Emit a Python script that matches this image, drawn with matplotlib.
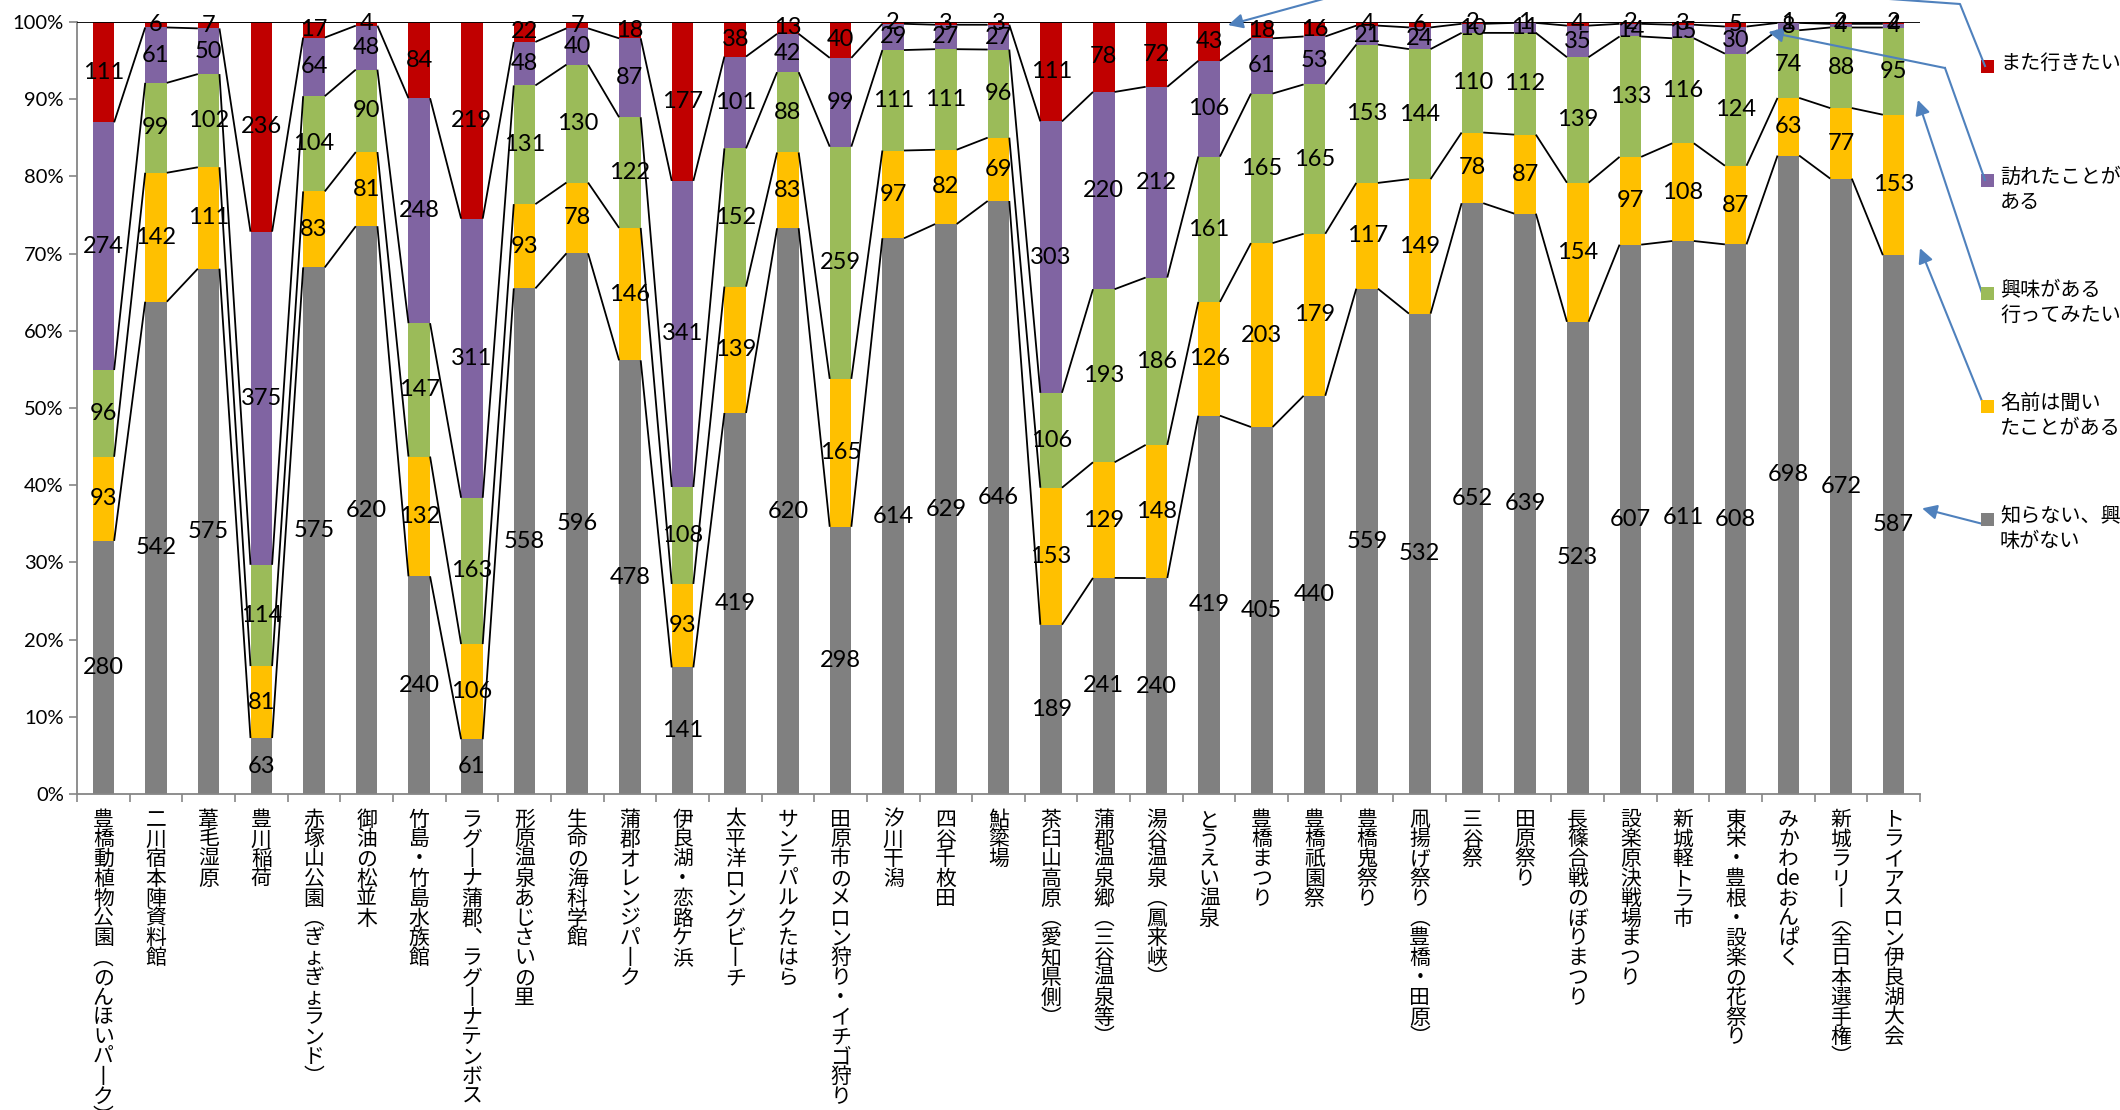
import numpy as np
import matplotlib
matplotlib.use('Agg')
import matplotlib.pyplot as plt
from matplotlib.lines import Line2D
from matplotlib.patches import Rectangle
import matplotlib.transforms as mtransforms

categories = [
    '豊橋動植物公園（のんほいパーク）', '二川宿本陣資料館', '葦毛湿原', '豊川稲荷',
    '赤塚山公園（ぎょぎょランド）', '御油の松並木', '竹島・竹島水族館',
    'ラグーナ蒲郡、ラグーナテンボス', '形原温泉あじさいの里', '生命の海科学館',
    '蒲郡オレンジパーク', '伊良湖・恋路ケ浜', '太平洋ロングビーチ', 'サンテパルクたはら',
    '田原市のメロン狩り・イチゴ狩り', '汐川干潟', '四谷千枚田', '鮎簗場',
    '茶臼山高原（愛知県側）', '蒲郡温泉郷（三谷温泉等）', '湯谷温泉（鳳来峡）', 'とうえい温泉',
    '豊橋まつり', '豊橋祇園祭', '豊橋鬼祭り', '凧揚げ祭り（豊橋・田原）', '三谷祭', '田原祭り',
    '長篠合戦のぼりまつり', '設楽原決戦場まつり', '新城軽トラ市', '東栄・豊根・設楽の花祭り',
    'みかわdeおんぱく', '新城ラリー（全日本選手権）', 'トライアスロン伊良湖大会',
]

# 知らない、興味がない
never = [280, 542, 575, 63, 575, 620, 240, 61, 558, 596, 478, 141, 419, 620, 298, 614, 629, 646,
         189, 241, 240, 419, 405, 440, 559, 532, 652, 639, 523, 607, 611, 608, 698, 672, 587]
# 名前は聞いたことがある
heard = [93, 142, 111, 81, 83, 81, 132, 106, 93, 78, 146, 93, 139, 83, 165, 97, 82, 69,
         153, 129, 148, 126, 203, 179, 117, 149, 78, 87, 154, 97, 108, 87, 63, 77, 153]
# 興味がある行ってみたい
interested = [96, 99, 102, 114, 104, 90, 147, 163, 131, 130, 122, 108, 152, 88, 259, 111, 111, 96,
              106, 193, 186, 161, 165, 165, 153, 144, 110, 112, 139, 133, 116, 124, 74, 88, 95]
# 訪れたことがある
visited = [274, 61, 50, 375, 64, 48, 248, 311, 48, 40, 87, 341, 101, 42, 99, 29, 27, 27,
           303, 220, 212, 106, 61, 53, 21, 24, 10, 11, 35, 14, 15, 30, 8, 4, 4]
# また行きたい
again = [111, 6, 7, 236, 17, 4, 84, 219, 22, 7, 18, 177, 38, 13, 40, 2, 3, 3,
         111, 78, 72, 43, 18, 16, 4, 6, 2, 1, 4, 2, 3, 5, 1, 2, 2]

legend_labels = ['知らない、興\n味がない', '名前は聞い\nたことがある', '興味がある\n行ってみたい',
                 '訪れたことが\nある', 'また行きたい']
colors = ['#808080', '#FFC000', '#9BBB59', '#8064A2', '#C00000']

W, H = 2120, 1110
JP = ['Noto Sans CJK JP', 'DejaVu Sans']
NUM = ['Lato', 'Noto Sans CJK JP', 'DejaVu Sans']


def fpos(px, py):
    # pixel (from top-left) -> figure fraction
    return (px / W, 1 - py / H)


fig = plt.figure(figsize=(W / 100, H / 100), dpi=100)
ax = fig.add_axes([77 / W, 1 - 794 / H, (1920 - 77) / W, (794 - 22) / H])

counts = np.array([never, heard, interested, visited, again], dtype=float)
share = counts / counts.sum(axis=0)
n = len(categories)
x = np.arange(n)
w = 0.41

bottom = np.zeros(n)
for k in range(len(counts)):
    ax.bar(x, share[k], w, bottom=bottom, color=colors[k], zorder=2, linewidth=0)
    for i in range(n):
        ax.text(x[i], bottom[i] + share[k][i] / 2, '%d' % counts[k][i], ha='center', va='center',
                fontsize=17, family=NUM, zorder=5)
    bottom = bottom + share[k]
    # series lines between neighbouring bars
    for i in range(n - 1):
        ax.plot([x[i] + w / 2, x[i + 1] - w / 2], [bottom[i], bottom[i + 1]],
                color='black', lw=1.3, zorder=3, solid_capstyle='butt')

ax.axhline(1.0, color='black', lw=1.3, zorder=3)

ax.set_xlim(-0.5, n - 0.5)
ax.set_ylim(0, 1)
ax.set_yticks(np.arange(0, 1.01, 0.1))
ax.set_yticklabels(['%d%%' % round(v * 100) for v in np.arange(0, 1.01, 0.1)], fontsize=14.5, family=NUM)
ax.set_xticks(np.arange(-0.5, n, 1))
ax.set_xticklabels([])
ax.tick_params(axis='both', direction='out', color='#868686', length=6, width=1.2)
for s in ['top', 'right']:
    ax.spines[s].set_visible(False)
for s in ['left', 'bottom']:
    ax.spines[s].set_color('#868686')
    ax.spines[s].set_linewidth(1.3)

# vertical category labels
vert = {'（': '︵', '）': '︶', 'ー': '丨', '、': '︑'}
trans = mtransforms.blended_transform_factory(ax.transData, ax.transAxes)
for i, name in enumerate(categories):
    chars = []
    j = 0
    while j < len(name):
        if name[j:j + 2] == 'de':
            chars.append('de')
            j += 2
            continue
        chars.append(vert.get(name[j], name[j]))
        j += 1
    ax.text(x[i], -0.019, '\n'.join(chars), transform=trans, ha='center', va='top',
            fontsize=15, family=JP, linespacing=0.87, clip_on=False)

# legend on the right
leg_y = [519, 406, 293, 180, 66]
for k in range(len(colors)):
    fx, fy = fpos(1981, leg_y[k] + 7)
    fig.add_artist(Rectangle((fx, fy), 13 / W, 13 / H, transform=fig.transFigure,
                             facecolor=colors[k], edgecolor='none'))
    tx, ty = fpos(2000, leg_y[k] - 13)
    fig.text(tx, ty, legend_labels[k], ha='left', va='top', fontsize=14.5, family=JP,
             linespacing=1.25)

# callout arrows from the legend to the bars
blue = '#4F81BD'
arrow = dict(arrowstyle='-|>', color=blue, lw=1.5, mutation_scale=22, shrinkA=0, shrinkB=0)


def poly(pts):
    xs = [p[0] / W for p in pts]
    ys = [1 - p[1] / H for p in pts]
    fig.add_artist(Line2D(xs, ys, transform=fig.transFigure, color=blue, lw=1.5))


poly([(1985, 66), (1960, 4), (1440, -33)])
ax.annotate('', xy=(21.36, 0.996), xycoords='data', xytext=fpos(1440, -33),
            textcoords='figure fraction', arrowprops=arrow, annotation_clip=False)
poly([(1985, 180), (1945, 68)])
ax.annotate('', xy=(31.62, 0.987), xycoords='data', xytext=fpos(1945, 68),
            textcoords='figure fraction', arrowprops=arrow, annotation_clip=False)
ax.annotate('', xy=(34.46, 0.899), xycoords='data', xytext=fpos(1982, 293),
            textcoords='figure fraction', arrowprops=arrow, annotation_clip=False)
ax.annotate('', xy=(34.5, 0.707), xycoords='data', xytext=fpos(1984, 406),
            textcoords='figure fraction', arrowprops=arrow, annotation_clip=False)
ax.annotate('', xy=(34.54, 0.37), xycoords='data', xytext=fpos(1983, 524),
            textcoords='figure fraction', arrowprops=arrow, annotation_clip=False)

fig.savefig('out.png', dpi=100)
